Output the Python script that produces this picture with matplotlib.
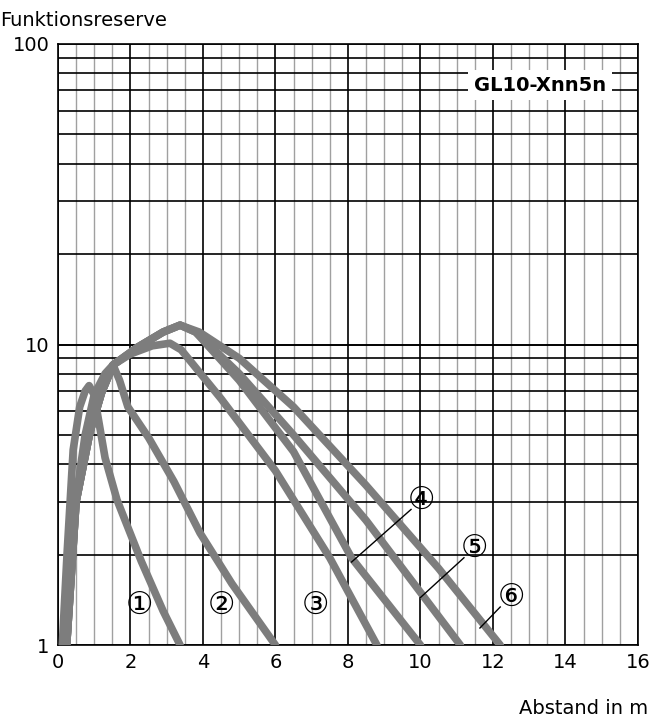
import matplotlib
matplotlib.use("Agg")
import matplotlib.pyplot as plt
import numpy as np

c1_x = [0.12, 0.25, 0.42, 0.6, 0.75, 0.86, 1.0, 1.3, 1.63, 2.3, 2.9, 3.37]
c1_y = [1.0, 2.0, 4.46, 6.2, 7.0, 7.3, 6.8, 4.2, 3.04, 1.9, 1.3, 1.0]
c2_x = [0.24, 0.45, 0.75, 1.0, 1.3, 1.52, 1.7, 1.93, 2.5, 3.2, 3.92, 4.8, 6.0]
c2_y = [1.0, 2.8, 5.0, 6.8, 8.0, 8.55, 7.6, 6.2, 4.9, 3.5, 2.36, 1.6, 1.0]
c3_x = [0.24, 0.5, 0.88, 1.2, 1.52, 2.0, 2.6, 3.09, 3.4, 4.5, 6.0, 7.5, 8.8]
c3_y = [1.0, 3.0, 5.1, 6.9, 8.55, 9.3, 9.9, 10.1, 9.6, 6.6, 3.8, 1.95, 1.0]
c4_x = [0.24, 0.5, 0.88, 1.2, 1.52, 2.2, 2.9, 3.37, 3.8, 5.0, 6.5, 8.1, 10.0]
c4_y = [1.0, 3.0, 5.1, 6.9, 8.55, 9.8, 11.0, 11.6, 11.0, 7.6, 4.4, 1.95, 1.0]
c5_x = [0.24, 0.5, 0.88, 1.2, 1.52, 2.2, 2.9, 3.37, 3.8, 5.0, 6.5, 8.5, 11.1]
c5_y = [1.0, 3.0, 5.1, 6.9, 8.55, 9.8, 11.0, 11.6, 11.0, 8.0, 5.0, 2.6, 1.0]
c6_x = [0.24, 0.5, 0.88, 1.2, 1.52, 2.2, 2.9, 3.37, 3.9, 5.0, 6.5, 8.5, 10.5, 12.2]
c6_y = [1.0, 3.0, 5.1, 6.9, 8.55, 9.8, 11.0, 11.6, 11.0, 9.0, 6.2, 3.4, 1.8, 1.0]
curves = [(c1_x, c1_y), (c2_x, c2_y), (c3_x, c3_y), (c4_x, c4_y), (c5_x, c5_y), (c6_x, c6_y)]

labels = ["①", "②", "③", "④", "⑤", "⑥"]
label_x = [2.26, 4.5, 7.1, 10.04, 11.5, 12.5]
label_y = [1.36, 1.36, 1.36, 3.04, 2.1, 1.44]
leader_x = [None, None, None, 8.1, 10.0, 11.64]
leader_y = [None, None, None, 1.89, 1.44, 1.14]

xticks = [0, 2, 4, 6, 8, 10, 12, 14, 16]
yticks = [1, 10, 100]

fig = plt.figure(figsize=(6.51, 7.2), dpi=100)
ax = fig.add_axes([0.089, 0.104, 0.891, 0.835])
ax.set_yscale("log")
ax.set_xlim(0, 16)
ax.set_ylim(1, 100)

for xv in np.arange(0, 16.01, 0.5):
    if abs(xv % 2) < 1e-9:
        ax.axvline(xv, color="black", lw=1.2, zorder=1)
    else:
        ax.axvline(xv, color="#a0a0a0", lw=1.0, zorder=0.9)
for dec in [1, 10]:
    for m in range(1, 11):
        ax.axhline(dec * m, color="black", lw=1.2, zorder=1)

for cx, cy in curves:
    ax.plot(cx, cy, color="#7d7d7d", lw=5.5, solid_joinstyle="round",
            solid_capstyle="round", zorder=3)

for i, lab in enumerate(labels):
    if leader_x[i] is not None:
        ax.plot([leader_x[i], label_x[i] - 0.3], [leader_y[i], label_y[i] * 0.93],
                color="black", lw=1.0, zorder=4)
    ax.text(label_x[i], label_y[i], lab, fontsize=22, ha="center", va="center",
            family=["DejaVu Sans"], zorder=5,
            bbox=dict(facecolor="white", edgecolor="none", pad=0, alpha=0) )

ax.text(13.3, 73, "GL10-Xnn5n", fontsize=14, fontweight="bold", ha="center", va="center",
        zorder=5, bbox=dict(facecolor="white", edgecolor="none", pad=4))

for s in ax.spines.values():
    s.set_color("black"); s.set_linewidth(1.2)
ax.set_xticks(xticks)
ax.set_xticklabels([str(v) for v in xticks], fontsize=14)
ax.set_yticks(yticks)
ax.set_yticklabels([str(v) for v in yticks], fontsize=14)
ax.yaxis.set_minor_locator(matplotlib.ticker.NullLocator())
ax.tick_params(length=0, pad=6)
fig.text(0.0, 0.985, "Funktionsreserve", fontsize=14, ha="left", va="top")
fig.text(0.995, 0.003, "Abstand in m", fontsize=14, ha="right", va="bottom")
fig.savefig("out.png", dpi=100)
